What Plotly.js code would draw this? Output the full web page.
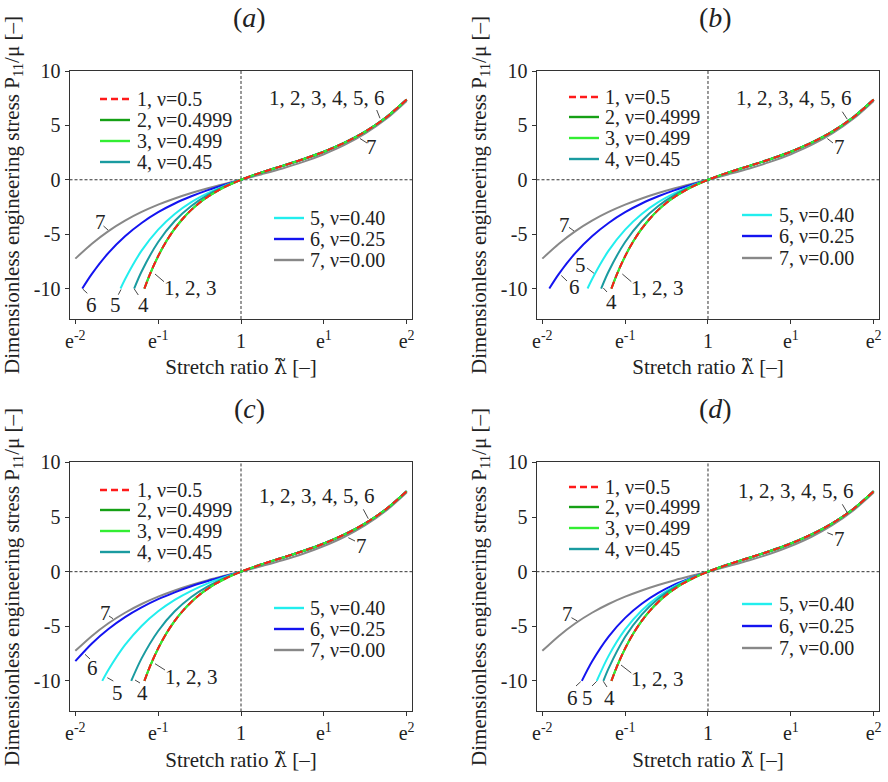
<!DOCTYPE html>
<html><head><meta charset="utf-8">
<script src="https://cdn.plot.ly/plotly-3.0.1.min.js"></script>
<style>html,body{margin:0;padding:0;background:#fff}#chart{width:888px;height:782px}</style>
</head><body><div id="chart"></div>
<script>
// ---------- DATA (x = ln of stretch ratio, y = P11/mu) ----------
const seriesNames = ['1, ν=0.5', '2, ν=0.4999', '3, ν=0.499', '4, ν=0.45', '5, ν=0.40', '6, ν=0.25', '7, ν=0.00'];
const panelLetters = ['a', 'b', 'c', 'd'];
const xTickVals = [-2, -1, 0, 1, 2];
const xTickText = ['e<sup>-2</sup>', 'e<sup>-1</sup>', '1', 'e<sup>1</sup>', 'e<sup>2</sup>'];
const yTickVals = [-10, -5, 0, 5, 10];
const yTickText = ['-10', '-5', '0', '5', '10'];

// tension side (curves 1-6 coincide, 7 slightly lower)
const lnPos = [0, 0.25, 0.5, 0.75, 1.0, 1.25, 1.5, 1.75, 2.0];
const pPos16 = [0, 0.68, 1.28, 1.89, 2.58, 3.41, 4.43, 5.72, 7.37];
const pPos7 = [0, 0.51, 1.04, 1.64, 2.35, 3.20, 4.26, 5.58, 7.25];

// compression side, curves 1-3 (identical in all panels)
const ln1Neg = [-1.166, -1.1, -1.0, -0.9, -0.8, -0.7, -0.6, -0.5, -0.4, -0.3, -0.2, -0.1];
const p1Neg = [-10.0, -8.69, -7.02, -5.64, -4.50, -3.56, -2.77, -2.11, -1.56, -1.08, -0.67, -0.32];
// curve 7 (identical in all panels)
const ln7Neg = [-2.0, -1.8, -1.6, -1.4, -1.2, -1.0, -0.8, -0.6, -0.4, -0.2];
const p7Neg = [-7.25, -5.88, -4.72, -3.76, -2.96, -2.29, -1.72, -1.22, -0.78, -0.38];

// panels (a) and (b)
const ln6_ab = [-1.916, -1.8, -1.6, -1.4, -1.2, -1.0, -0.8, -0.6, -0.4, -0.2];
const p6_ab = [-10.0, -8.65, -6.72, -5.19, -3.97, -2.98, -2.18, -1.52, -0.95, -0.46];
const ln5_ab = [-1.454, -1.4, -1.2, -1.0, -0.8, -0.6, -0.4, -0.2];
const p5_ab = [-10.0, -9.14, -6.52, -4.58, -3.15, -2.06, -1.23, -0.56];
const ln4_ab = [-1.29, -1.2, -1.0, -0.8, -0.6, -0.4, -0.2];
const p4_ab = [-10.0, -8.43, -5.72, -3.79, -2.41, -1.39, -0.62];

// panel (c)
const ln6_c = [-2.0, -1.8, -1.6, -1.4, -1.2, -1.0, -0.8, -0.6, -0.4, -0.2];
const p6_c = [-8.19, -6.57, -5.25, -4.16, -3.27, -2.52, -1.89, -1.34, -0.86, -0.42];
const ln5_c = [-1.675, -1.6, -1.4, -1.2, -1.0, -0.8, -0.6, -0.4, -0.2];
const p5_c = [-10.0, -8.98, -6.71, -4.97, -3.63, -2.58, -1.75, -1.07, -0.50];
const ln4_c = [-1.325, -1.2, -1.0, -0.8, -0.6, -0.4, -0.2];
const p4_c = [-10.0, -7.94, -5.43, -3.63, -2.32, -1.35, -0.60];

// panel (d)
const ln6_d = [-1.523, -1.4, -1.2, -1.0, -0.8, -0.6, -0.4, -0.2];
const p6_d = [-10.0, -8.22, -5.94, -4.23, -2.94, -1.95, -1.17, -0.54];
const ln5_d = [-1.343, -1.2, -1.0, -0.8, -0.6, -0.4, -0.2];
const p5_d = [-10.0, -7.71, -5.29, -3.55, -2.28, -1.33, -0.60];
const ln4_d = [-1.263, -1.2, -1.0, -0.8, -0.6, -0.4, -0.2];
const p4_d = [-10.0, -8.85, -5.96, -3.93, -2.48, -1.42, -0.63];

// ---------- STYLE ----------
const W = 888, H = 782;
const SERIF = 'Liberation Serif, Times New Roman, serif';
const TXT = '#222';
const colors = ['#ff1a1a', '#16a016', '#33ee33', '#1a9ba0', '#22eeee', '#1414f0', '#888888'];
const dashes = ['7px,4px', 'solid', 'solid', 'solid', 'solid', 'solid', 'solid'];

const panelCurves = {
  a: [[ln4_ab, p4_ab], [ln5_ab, p5_ab], [ln6_ab, p6_ab]],
  b: [[ln4_ab, p4_ab], [ln5_ab, p5_ab], [ln6_ab, p6_ab]],
  c: [[ln4_c, p4_c], [ln5_c, p5_c], [ln6_c, p6_c]],
  d: [[ln4_d, p4_d], [ln5_d, p5_d], [ln6_d, p6_d]]
};

const traces = [];
panelLetters.forEach((L, i) => {
  const s = i === 0 ? '' : String(i + 1);
  const curves = [
    [ln1Neg.concat(lnPos), p1Neg.concat(pPos16)],
    [ln1Neg.concat(lnPos), p1Neg.concat(pPos16)],
    [ln1Neg.concat(lnPos), p1Neg.concat(pPos16)],
    [panelCurves[L][0][0].concat(lnPos), panelCurves[L][0][1].concat(pPos16)],
    [panelCurves[L][1][0].concat(lnPos), panelCurves[L][1][1].concat(pPos16)],
    [panelCurves[L][2][0].concat(lnPos), panelCurves[L][2][1].concat(pPos16)],
    [ln7Neg.concat(lnPos), p7Neg.concat(pPos7)]
  ];
  const order = [6, 5, 4, 3, 1, 2, 0];
  order.forEach(k => {
    traces.push({
      type: 'scatter', mode: 'lines', name: seriesNames[k],
      x: curves[k][0], y: curves[k][1],
      xaxis: 'x' + s, yaxis: 'y' + s,
      line: {color: colors[k], width: 2, dash: dashes[k], shape: 'spline', smoothing: 0.8},
      showlegend: false, hoverinfo: 'skip'
    });
  });
});

const xDomains = [[0.0783, 0.4645], [0.6042, 0.9904], [0.0783, 0.4645], [0.6042, 0.9904]];
const yDomains = [[0.5921, 0.9092], [0.5921, 0.9092], [0.0902, 0.4086], [0.0902, 0.4086]];

const layout = {
  width: W, height: H, margin: {l: 0, r: 0, t: 0, b: 0},
  paper_bgcolor: '#fff', plot_bgcolor: '#fff', showlegend: false,
  font: {family: SERIF, color: TXT, size: 19},
  annotations: [], shapes: []
};

panelLetters.forEach((L, i) => {
  const s = i === 0 ? '' : String(i + 1);
  layout['xaxis' + s] = {
    domain: xDomains[i], anchor: 'y' + s, range: [-2.07, 2.07],
    tickvals: xTickVals, ticktext: xTickText, ticks: 'outside', ticklen: 4, tickwidth: 1, tickcolor: '#333',
    showline: true, mirror: true, linecolor: '#333', linewidth: 1, showgrid: false, zeroline: false,
    tickfont: {family: SERIF, size: 20, color: TXT},
    title: {text: 'Stretch ratio <span style="font-family:DejaVu Serif">λ\u0303</span> [–]', font: {family: SERIF, size: 21, color: TXT}, standoff: 8},
    fixedrange: true
  };
  layout['yaxis' + s] = {
    domain: yDomains[i], anchor: 'x' + s, range: [-12.8, 10],
    tickvals: yTickVals, ticktext: yTickText, ticks: 'outside', ticklen: 4, tickwidth: 1, tickcolor: '#333',
    showline: true, mirror: true, linecolor: '#333', linewidth: 1, showgrid: false, zeroline: false,
    tickfont: {family: SERIF, size: 20, color: TXT},
    title: {text: 'Dimensionless engineering stress P<sub>11</sub>/μ [–]', font: {family: SERIF, size: 21, color: TXT}, standoff: 8},
    fixedrange: true
  };
  // dashed zero lines
  layout.shapes.push({type: 'line', xref: 'x' + s + ' domain', yref: 'y' + s, x0: 0, x1: 1, y0: 0, y1: 0,
    line: {color: '#333', width: 1, dash: '3px,2px'}, layer: 'below'});
  layout.shapes.push({type: 'line', xref: 'x' + s, yref: 'y' + s + ' domain', x0: 0, x1: 0, y0: 0, y1: 1,
    line: {color: '#333', width: 1, dash: '3px,2px'}, layer: 'below'});
});

// helpers in page pixels
function txt(px, py, text, size, anchor) {
  return {xref: 'paper', yref: 'paper', x: px / W, y: 1 - py / H, text: text, showarrow: false,
    xanchor: anchor || 'center', yanchor: 'middle', font: {family: SERIF, size: size, color: TXT}};
}
function seg(x0, y0, x1, y1, color, width, dash) {
  return {type: 'line', xref: 'paper', yref: 'paper', x0: x0 / W, y0: 1 - y0 / H, x1: x1 / W, y1: 1 - y1 / H,
    line: {color: color, width: width, dash: dash || 'solid'}};
}

// panel titles
const titlePos = [[249, 17.5], [715.7, 17.5], [249, 409], [715.7, 409]];
panelLetters.forEach((L, i) => layout.annotations.push(txt(titlePos[i][0], titlePos[i][1], '(<i>' + L + '</i>)', 28)));

// legends: [sampleX0, textX, rows]
const legendSpec = [
  {top: [100, 135, [99, 120, 141, 162]], bot: [274, 308, [218, 239, 260]]},
  {top: [569, 603, [97, 117, 138, 159]], bot: [742, 777, [215, 236, 258]]},
  {top: [100, 135, [490, 510, 531, 552]], bot: [274, 308, [608, 629, 650]]},
  {top: [569, 603, [487, 507, 528, 549]], bot: [742, 777, [604, 626, 648]]}
];
legendSpec.forEach(sp => {
  [0, 1, 2, 3].forEach(k => {
    const y = sp.top[2][k];
    if (k === 0) layout.shapes.push(seg(sp.top[0], y, sp.top[0] + 30, y, colors[0], 2.4, '7px,4px'));
    else layout.shapes.push(seg(sp.top[0], y, sp.top[0] + 30, y, colors[k], 2.4));
    layout.annotations.push(txt(sp.top[1], y, seriesNames[k], 20, 'left'));
  });
  [4, 5, 6].forEach((k, j) => {
    const y = sp.bot[2][j];
    layout.shapes.push(seg(sp.bot[0], y, sp.bot[0] + 30, y, colors[k], 2.4));
    layout.annotations.push(txt(sp.bot[1], y, seriesNames[k], 20, 'left'));
  });
});

// curve labels with leader lines: [text, cx, cy, lx0, ly0, lx1, ly1]
const curveLabels = [
  ['1, 2, 3, 4, 5, 6', 326.7, 98.3, 376.7, 110, 380, 118.3],
  ['7', 371.7, 146.7, 367, 143, 360, 138.5],
  ['7', 100, 221.7, 103.5, 226, 108, 230],
  ['1, 2, 3', 190, 288.3, 164, 281.7, 155, 274],
  ['6', 91.7, 305, 87.3, 293.3, 82.7, 289],
  ['5', 115, 305, 118.3, 294.7, 121, 289.5],
  ['4', 143.3, 305, 138.3, 295, 134.3, 289],

  ['1, 2, 3, 4, 5, 6', 794, 97.7, 842.3, 111.7, 847.3, 119.3],
  ['7', 839, 146.7, 833, 143, 827.3, 138.5],
  ['7', 564, 225, 569, 227.3, 574, 231],
  ['5', 580.7, 265, 587, 268, 594, 273.3],
  ['6', 574, 286.7, 567, 281, 561.3, 275.5],
  ['4', 611.3, 301.7, 607, 292, 603.3, 288],
  ['1, 2, 3', 657.3, 288.3, 631.3, 281.7, 622.3, 274],

  ['1, 2, 3, 4, 5, 6', 316.7, 496, 363.3, 509.3, 368.3, 518.7],
  ['7', 361.7, 546, 355, 541, 348.3, 537.7],
  ['7', 105, 612.7, 109, 616, 113, 618.7],
  ['6', 92.3, 667.7, 90, 659, 85, 654.3],
  ['5', 117.3, 692.7, 113.3, 681, 107.3, 677.7],
  ['4', 142.7, 692.7, 140, 683, 135, 680],
  ['1, 2, 3', 191.7, 676.7, 165, 670, 155, 663.7],

  ['1, 2, 3, 4, 5, 6', 795.7, 491, 842.3, 504.3, 847.3, 512.7],
  ['7', 839, 539.3, 833, 535, 827.3, 532.7],
  ['7', 567.3, 614.3, 571.5, 617.7, 577.3, 621],
  ['6', 572.3, 697.7, 576, 686, 580.7, 681.7],
  ['5', 587.3, 697.7, 592, 686, 596.7, 681.3],
  ['4', 609, 697.7, 607, 687, 603.3, 681.3],
  ['1, 2, 3', 657.3, 679.3, 631.3, 673, 621, 665]
];
curveLabels.forEach(c => {
  layout.annotations.push(txt(c[1], c[2], c[0], 21));
  layout.shapes.push(seg(c[3], c[4], c[5], c[6], '#333', 0.9));
});

Plotly.newPlot('chart', traces, layout, {staticPlot: true, displayModeBar: false});
</script></body></html>
